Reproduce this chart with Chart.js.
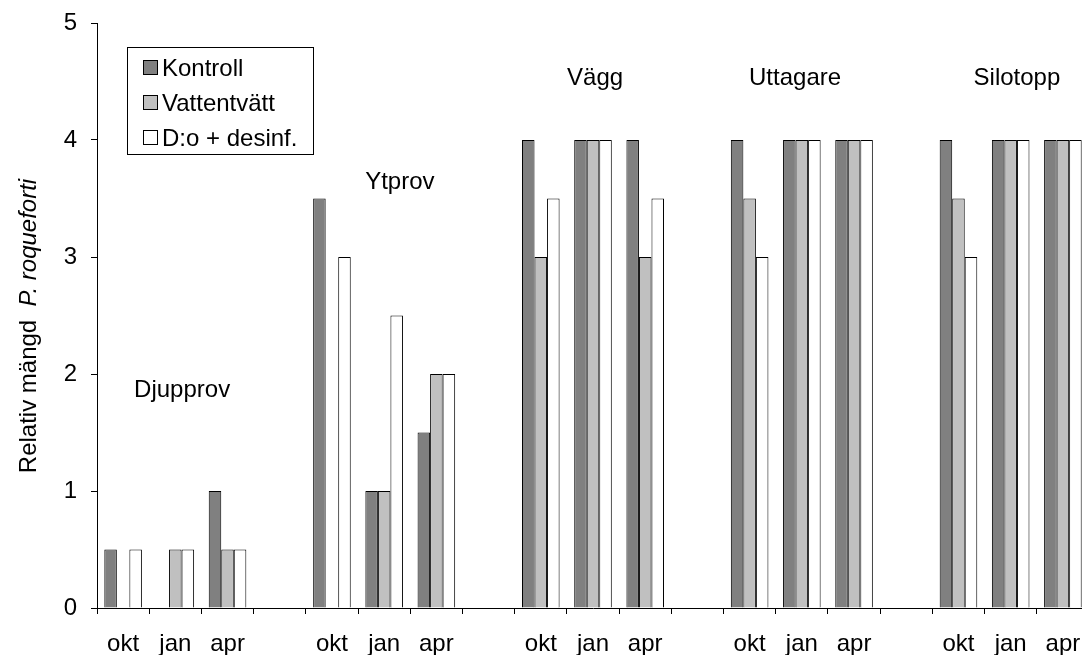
<!DOCTYPE html>
<html>
<head>
<meta charset="utf-8">
<script src="https://cdn.jsdelivr.net/npm/chart.js@4/dist/chart.umd.min.js"></script>
<style>
  html, body { margin: 0; padding: 0; background: #fff; overflow: hidden; }
  #wrap { position: relative; width: 1100px; height: 655px; }
</style>
</head>
<body>
<div id="wrap"><canvas id="c" width="1100" height="655"></canvas></div>
<script>
// Sampling months per location; empty entries separate the five locations
const categories = ['okt', 'jan', 'apr', '', 'okt', 'jan', 'apr', '', 'okt', 'jan', 'apr', '',
                    'okt', 'jan', 'apr', '', 'okt', 'jan', 'apr'];
const kontroll    = [0.5, null, 1,   null, 3.5, 1,   1.5, null, 4,   4, 4,   null, 4,   4, 4, null, 4,   4, 4];
const vattentvatt = [null, 0.5, 0.5, null, null, 1,  2,   null, 3,   4, 3,   null, 3.5, 4, 4, null, 3.5, 4, 4];
const desinf      = [0.5, 0.5, 0.5, null, 3,   2.5, 2,   null, 3.5, 4, 3.5, null, 3,   4, 4, null, 3,   4, 4];
const seriesNames = ['Kontroll', 'Vattentvätt', 'D:o + desinf.'];
const groupNames  = ['Djupprov', 'Ytprov', 'Vägg', 'Uttagare', 'Silotopp'];
const yTicks      = [0, 1, 2, 3, 4, 5];
const yTitleMain  = 'Relativ mängd';
const yTitleItal  = 'P. roqueforti';

const FONT = "'Liberation Sans', Arial, sans-serif";
const FSIZE = 24;
const fills = ['#808080', '#c0c0c0', '#ffffff'];

// where each location name sits, in (category index, value) units
const groupAnchors = [[1.13, 1.86], [5.3, 3.64], [9.04, 4.53], [12.87, 4.53], [17.12, 4.53]];

const groupLabels = {
  id: 'groupLabels',
  afterDatasetsDraw(chart) {
    const { ctx, scales: { x, y } } = chart;
    ctx.save();
    ctx.font = `${FSIZE}px ${FONT}`;
    ctx.fillStyle = '#000';
    ctx.textAlign = 'center';
    ctx.textBaseline = 'middle';
    groupNames.forEach((name, i) => {
      const [cx, cy] = groupAnchors[i];
      ctx.fillText(name, x.getPixelForValue(cx), y.getPixelForValue(cy));
    });
    ctx.restore();
  }
};

const boxLegend = {
  id: 'boxLegend',
  afterDraw(chart) {
    const { ctx } = chart;
    const bx = 127.5, by = 47.5, bw = 186, bh = 107;
    ctx.save();
    ctx.fillStyle = '#fff';
    ctx.fillRect(bx, by, bw, bh);
    ctx.strokeStyle = '#000';
    ctx.lineWidth = 1;
    ctx.strokeRect(bx, by, bw, bh);
    ctx.font = `${FSIZE}px ${FONT}`;
    ctx.textAlign = 'left';
    ctx.textBaseline = 'middle';
    seriesNames.forEach((name, i) => {
      const cy = 68 + i * 35;
      ctx.fillStyle = fills[i];
      ctx.fillRect(143.5, cy - 7.5, 14, 14);
      ctx.strokeStyle = '#000';
      ctx.strokeRect(143.5, cy - 7.5, 14, 14);
      ctx.fillStyle = '#000';
      ctx.fillText(name, 162, cy + 1);
    });
    ctx.restore();
  }
};

const yTitle = {
  id: 'yTitle',
  afterDraw(chart) {
    const { ctx } = chart;
    ctx.save();
    ctx.translate(29, 326);
    ctx.rotate(-Math.PI / 2);
    ctx.fillStyle = '#000';
    ctx.textBaseline = 'middle';
    ctx.textAlign = 'left';
    const fMain = `${FSIZE}px ${FONT}`;
    const fItal = `italic ${FSIZE}px ${FONT}`;
    ctx.font = fMain;
    const w1 = ctx.measureText(yTitleMain + '  ').width;
    ctx.font = fItal;
    const w2 = ctx.measureText(yTitleItal).width;
    const start = -(w1 + w2) / 2;
    ctx.font = fMain;
    ctx.fillText(yTitleMain, start, 0);
    ctx.font = fItal;
    ctx.fillText(yTitleItal, start + w1, 0);
    ctx.restore();
  }
};

Chart.defaults.font.family = FONT;
Chart.defaults.font.size = FSIZE;
Chart.defaults.color = '#000';

const mk = (i, data) => ({
  label: seriesNames[i],
  data,
  backgroundColor: fills[i],
  borderColor: '#000',
  borderWidth: 1,
  borderSkipped: 'start',
  categoryPercentage: 0.72,
  barPercentage: 1.0
});

new Chart(document.getElementById('c'), {
  type: 'bar',
  data: {
    labels: categories,
    datasets: [mk(0, kontroll), mk(1, vattentvatt), mk(2, desinf)]
  },
  options: {
    responsive: false,
    animation: false,
    devicePixelRatio: 1,
    layout: { padding: { top: 23, right: 11, left: 0, bottom: 0 } },
    plugins: { legend: { display: false }, tooltip: { enabled: false } },
    scales: {
      x: {
        offset: true,
        grid: { display: true, offset: true, drawOnChartArea: false, drawTicks: true, tickLength: 6, color: '#000' },
        border: { display: true, color: '#000', width: 1 },
        ticks: { padding: 16, maxRotation: 0, autoSkip: false, font: { size: FSIZE } },
        afterFit(scale) { scale.height = 47; }
      },
      y: {
        min: 0,
        max: 5,
        afterBuildTicks(scale) { scale.ticks = yTicks.map(v => ({ value: v })); },
        grid: { display: true, drawOnChartArea: false, drawTicks: true, tickLength: 6, color: '#000' },
        border: { display: true, color: '#000', width: 1 },
        ticks: { padding: 14, font: { size: FSIZE } },
        afterFit(scale) {
          scale.width = 97;
          scale.paddingTop = 0;
          scale.paddingBottom = 0;
        }
      }
    }
  },
  plugins: [groupLabels, boxLegend, yTitle]
});
</script>
</body>
</html>
